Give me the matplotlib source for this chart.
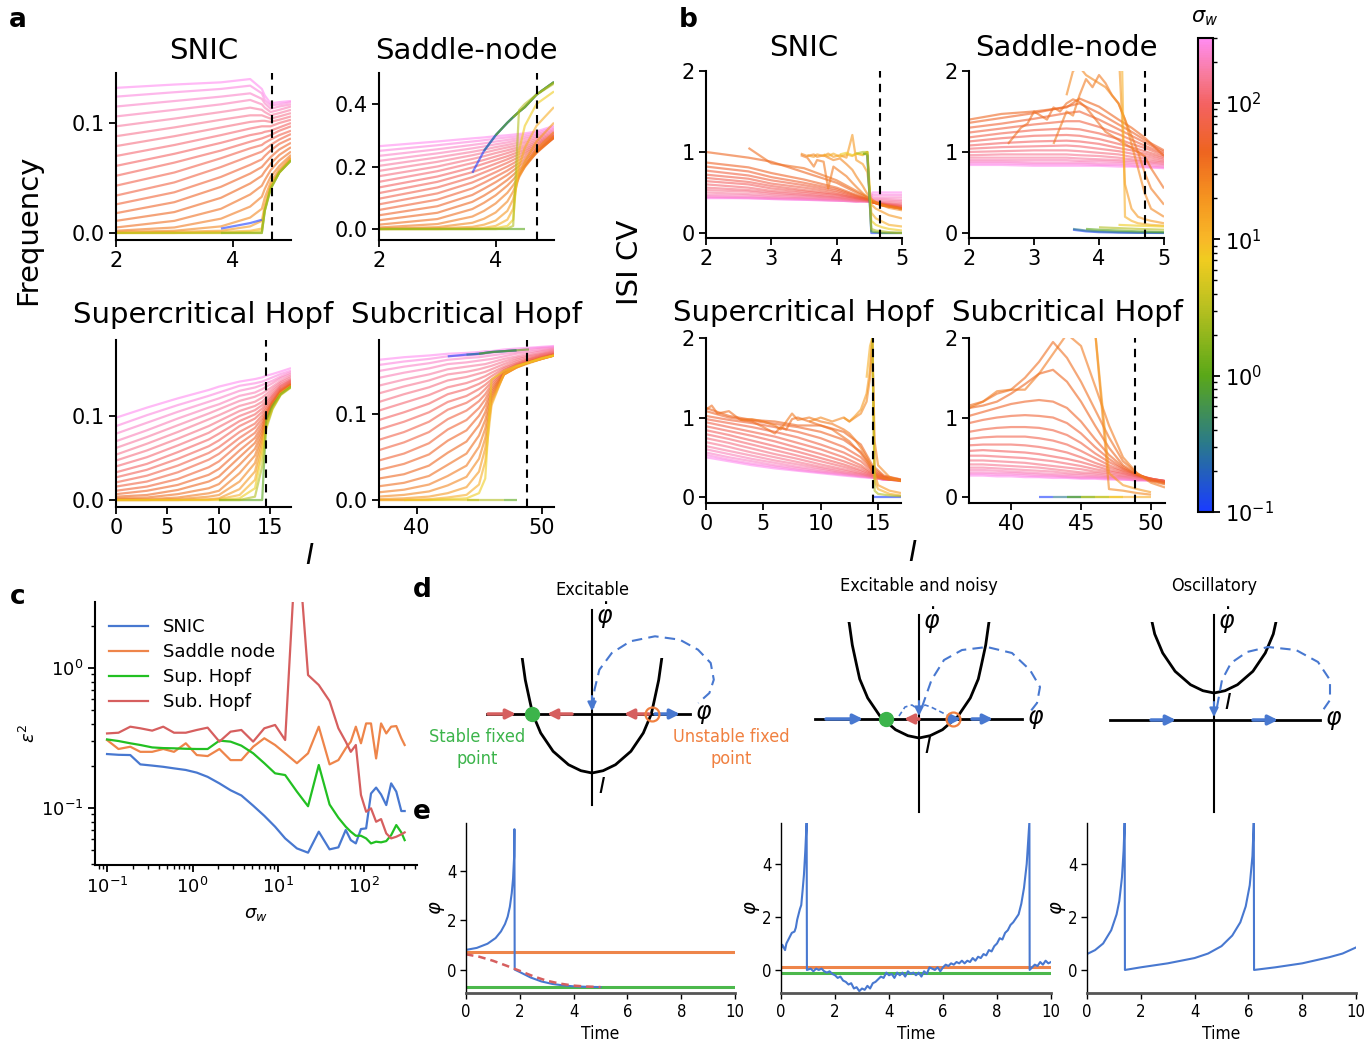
import numpy as np
import matplotlib
matplotlib.use('Agg')
import matplotlib.pyplot as plt
from matplotlib.colors import LinearSegmentedColormap, LogNorm
from matplotlib.patches import Rectangle
import matplotlib.ticker as mticker
import matplotlib.cm as mcm

W, H = 1369, 1041
N = None
NARROW = ['Liberation Sans Narrow', 'DejaVu Sans']

# ---------------- colour scale (sigma_w) ----------------
CMAP_POS = [0, 0.144, 0.288, 0.431, 0.532, 0.575, 0.661, 0.762, 0.863, 0.92, 1.0]
CMAP_COL = ['#1a3cff', '#2a7a8a', '#5aa818', '#b8c020', '#f0cc20', '#f8b828',
            '#f59520', '#ee6420', '#f46262', '#f77a98', '#ff8cf0']
SIG_MIN, SIG_MAX = 0.1, 300

# ---------------- panel a : frequency ----------------
A_SNIC_I = [2.0, 3.0, 3.8, 4.3, 4.5, 4.55, 4.65, 4.8, 5.0]
A_SNIC = [
    (300, [0.132, 0.135, 0.137, 0.140, 0.131, 0.125, 0.118, 0.119, 0.120]),
    (260, [0.124, 0.128, 0.131, 0.134, 0.127, 0.121, 0.116, 0.117, 0.119]),
    (225, [0.115, 0.120, 0.124, 0.127, 0.122, 0.118, 0.113, 0.115, 0.117]),
    (195, [0.106, 0.112, 0.117, 0.121, 0.117, 0.114, 0.110, 0.112, 0.115]),
    (170, [0.097, 0.104, 0.110, 0.114, 0.112, 0.110, 0.107, 0.109, 0.112]),
    (150, [0.088, 0.096, 0.103, 0.107, 0.107, 0.106, 0.104, 0.106, 0.109]),
    (130, [0.079, 0.088, 0.096, 0.101, 0.102, 0.102, 0.101, 0.103, 0.106]),
    (115, [0.070, 0.080, 0.089, 0.095, 0.097, 0.097, 0.097, 0.100, 0.103]),
    (100, [0.061, 0.072, 0.082, 0.089, 0.091, 0.092, 0.093, 0.096, 0.100]),
    (88, [0.052, 0.064, 0.075, 0.083, 0.086, 0.087, 0.089, 0.093, 0.097]),
    (77, [0.043, 0.055, 0.068, 0.077, 0.080, 0.082, 0.085, 0.089, 0.093]),
    (67, [0.034, 0.046, 0.060, 0.070, 0.074, 0.076, 0.080, 0.085, 0.090]),
    (58, [0.026, 0.037, 0.051, 0.062, 0.067, 0.070, 0.075, 0.081, 0.086]),
    (50, [0.018, 0.028, 0.042, 0.054, 0.060, 0.063, 0.069, 0.076, 0.082]),
    (43, [0.011, 0.019, 0.032, 0.045, 0.052, 0.056, 0.063, 0.071, 0.078]),
    (37, [0.005, 0.011, 0.022, 0.035, 0.043, 0.048, 0.057, 0.066, 0.074]),
    (31, [0.002, 0.005, 0.013, 0.024, 0.033, 0.040, 0.051, 0.061, 0.071]),
    (25, [0.001, 0.002, 0.006, 0.014, 0.022, 0.032, 0.046, 0.058, 0.069]),
    (18, [0.000, 0.001, 0.002, 0.006, 0.011, 0.025, 0.043, 0.056, 0.068]),
    (12, [0.000, 0.000, 0.001, 0.002, 0.004, 0.022, 0.042, 0.055, 0.067]),
    (7, [0.000, 0.000, 0.000, 0.001, 0.002, 0.021, 0.041, 0.055, 0.066]),
    (3, [0.000, 0.000, 0.000, 0.000, 0.000, 0.020, 0.040, 0.055, 0.066]),
    (1, [N, N, 0.000, 0.000, 0.000, 0.020, 0.040, 0.055, 0.066]),
    (0.1, [N, N, 0.004, 0.009, 0.012, N, N, N, N]),
]

A_SN_I = [2.0, 3.0, 3.6, 3.8, 4.0, 4.2, 4.3, 4.4, 4.5, 4.7, 5.0]
A_SN = [
    (300, [0.265, 0.280, 0.290, 0.293, 0.297, 0.300, 0.302, 0.304, 0.306, 0.312, 0.330]),
    (260, [0.250, 0.268, 0.280, 0.284, 0.289, 0.293, 0.295, 0.298, 0.300, 0.307, 0.325]),
    (225, [0.234, 0.255, 0.269, 0.274, 0.280, 0.285, 0.288, 0.291, 0.294, 0.302, 0.320]),
    (195, [0.218, 0.242, 0.258, 0.264, 0.271, 0.277, 0.281, 0.284, 0.288, 0.297, 0.316]),
    (170, [0.202, 0.229, 0.247, 0.254, 0.262, 0.269, 0.273, 0.277, 0.281, 0.292, 0.312]),
    (150, [0.186, 0.215, 0.236, 0.244, 0.253, 0.261, 0.265, 0.270, 0.275, 0.287, 0.308]),
    (130, [0.169, 0.200, 0.224, 0.233, 0.243, 0.252, 0.257, 0.262, 0.268, 0.282, 0.305]),
    (115, [0.151, 0.185, 0.211, 0.221, 0.232, 0.243, 0.249, 0.255, 0.261, 0.277, 0.302]),
    (100, [0.133, 0.168, 0.197, 0.209, 0.221, 0.233, 0.240, 0.247, 0.254, 0.272, 0.300]),
    (88, [0.115, 0.151, 0.182, 0.195, 0.209, 0.223, 0.231, 0.239, 0.247, 0.267, 0.298]),
    (77, [0.097, 0.133, 0.166, 0.181, 0.196, 0.212, 0.221, 0.230, 0.240, 0.262, 0.296]),
    (67, [0.079, 0.114, 0.149, 0.165, 0.182, 0.200, 0.210, 0.221, 0.232, 0.257, 0.294]),
    (58, [0.061, 0.094, 0.130, 0.148, 0.167, 0.187, 0.199, 0.211, 0.224, 0.252, 0.293]),
    (50, [0.044, 0.073, 0.109, 0.129, 0.150, 0.173, 0.187, 0.201, 0.216, 0.248, 0.292]),
    (43, [0.028, 0.052, 0.087, 0.107, 0.130, 0.157, 0.173, 0.190, 0.208, 0.245, 0.292]),
    (37, [0.014, 0.032, 0.064, 0.084, 0.108, 0.139, 0.158, 0.180, 0.202, 0.243, 0.293]),
    (31, [0.005, 0.016, 0.040, 0.058, 0.082, 0.116, 0.140, 0.170, 0.198, 0.245, 0.298]),
    (25, [0.001, 0.006, 0.020, 0.033, 0.053, 0.088, 0.120, 0.165, 0.200, 0.255, 0.310]),
    (18, [0.000, 0.002, 0.007, 0.014, 0.027, 0.058, 0.095, 0.170, 0.215, 0.280, 0.340]),
    (12, [0.000, 0.000, 0.002, 0.004, 0.010, 0.030, 0.065, 0.200, 0.260, 0.330, 0.390]),
    (7, [0.000, 0.000, 0.000, 0.001, 0.003, 0.010, 0.030, 0.250, 0.330, 0.400, 0.440]),
    (3, [0.000, 0.000, 0.000, 0.000, 0.000, 0.002, 0.010, 0.380, 0.400, 0.430, 0.465]),
    (1, [0.000, 0.000, 0.000, 0.000, 0.000, 0.000, 0.000, 0.000, 0.000, N, N]),
    (0.1, [N, N, 0.180, 0.250, 0.300, 0.340, 0.358, 0.375, 0.390, 0.430, 0.470]),
    (0.3, [N, N, N, 0.250, 0.300, 0.340, 0.358, 0.375, 0.390, 0.430, 0.470]),
    (1, [N, N, N, N, 0.300, 0.340, 0.358, 0.375, 0.390, 0.430, 0.470]),
    (2, [N, N, N, N, N, N, 0.358, 0.375, 0.390, 0.430, 0.470]),
]

A_SUP_I = [0, 3, 6, 9, 10, 12, 13.5, 14.2, 14.6, 15.2, 16, 17]
A_SUP = [
    (300, [0.098, 0.110, 0.121, 0.131, 0.135, 0.141, 0.144, 0.146, 0.148, 0.150, 0.153, 0.157]),
    (260, [0.088, 0.101, 0.113, 0.124, 0.128, 0.136, 0.139, 0.141, 0.143, 0.146, 0.150, 0.154]),
    (225, [0.079, 0.092, 0.105, 0.117, 0.121, 0.130, 0.134, 0.137, 0.139, 0.142, 0.147, 0.152]),
    (195, [0.070, 0.083, 0.097, 0.110, 0.114, 0.124, 0.128, 0.132, 0.135, 0.139, 0.145, 0.150]),
    (170, [0.062, 0.075, 0.089, 0.103, 0.108, 0.118, 0.123, 0.127, 0.130, 0.135, 0.142, 0.148]),
    (150, [0.054, 0.067, 0.081, 0.096, 0.101, 0.112, 0.117, 0.122, 0.126, 0.132, 0.140, 0.146]),
    (130, [0.047, 0.059, 0.073, 0.088, 0.094, 0.106, 0.112, 0.117, 0.122, 0.129, 0.138, 0.144]),
    (115, [0.040, 0.051, 0.065, 0.080, 0.087, 0.100, 0.107, 0.113, 0.118, 0.126, 0.136, 0.143]),
    (100, [0.033, 0.043, 0.057, 0.072, 0.079, 0.094, 0.102, 0.109, 0.115, 0.124, 0.135, 0.142]),
    (88, [0.027, 0.036, 0.049, 0.064, 0.071, 0.088, 0.097, 0.105, 0.112, 0.122, 0.133, 0.141]),
    (77, [0.021, 0.029, 0.041, 0.056, 0.063, 0.081, 0.091, 0.101, 0.109, 0.120, 0.132, 0.140]),
    (67, [0.016, 0.022, 0.033, 0.048, 0.055, 0.074, 0.086, 0.097, 0.106, 0.118, 0.131, 0.139]),
    (58, [0.011, 0.016, 0.025, 0.039, 0.046, 0.067, 0.080, 0.093, 0.104, 0.117, 0.130, 0.138]),
    (50, [0.007, 0.011, 0.018, 0.030, 0.037, 0.059, 0.074, 0.089, 0.102, 0.116, 0.129, 0.138]),
    (43, [0.004, 0.006, 0.012, 0.022, 0.028, 0.051, 0.068, 0.085, 0.100, 0.115, 0.129, 0.137]),
    (37, [0.002, 0.003, 0.007, 0.014, 0.019, 0.042, 0.061, 0.081, 0.098, 0.114, 0.128, 0.137]),
    (31, [0.001, 0.001, 0.003, 0.008, 0.011, 0.032, 0.053, 0.077, 0.096, 0.113, 0.128, 0.136]),
    (25, [0.000, 0.000, 0.001, 0.004, 0.006, 0.022, 0.044, 0.073, 0.094, 0.112, 0.127, 0.136]),
    (18, [0.000, 0.000, 0.000, 0.001, 0.002, 0.013, 0.034, 0.068, 0.092, 0.111, 0.127, 0.135]),
    (12, [0.000, 0.000, 0.000, 0.000, 0.001, 0.006, 0.024, 0.062, 0.090, 0.110, 0.126, 0.135]),
    (7, [0.000, 0.000, 0.000, 0.000, 0.000, 0.002, 0.014, 0.055, 0.088, 0.109, 0.126, 0.135]),
    (3, [N, N, N, N, 0.000, 0.000, 0.004, 0.040, 0.085, 0.108, 0.125, 0.134]),
    (1, [N, N, N, N, 0.000, 0.000, 0.000, 0.000, 0.095, 0.112, 0.126, 0.135]),
]

A_SUB_I = [37, 39, 41, 42.5, 44, 45, 45.5, 46, 47, 48, 49, 50, 51]
A_SUB = [
    (300, [0.163, 0.166, 0.168, 0.170, 0.171, 0.172, 0.173, 0.173, 0.175, 0.176, 0.177, 0.178, 0.179]),
    (260, [0.157, 0.161, 0.164, 0.167, 0.168, 0.169, 0.170, 0.171, 0.173, 0.174, 0.176, 0.177, 0.178]),
    (225, [0.150, 0.155, 0.159, 0.163, 0.165, 0.166, 0.167, 0.168, 0.170, 0.172, 0.174, 0.176, 0.177]),
    (195, [0.142, 0.148, 0.153, 0.158, 0.160, 0.162, 0.163, 0.164, 0.167, 0.170, 0.172, 0.174, 0.176]),
    (170, [0.133, 0.140, 0.146, 0.152, 0.155, 0.157, 0.158, 0.160, 0.164, 0.167, 0.170, 0.173, 0.175]),
    (150, [0.124, 0.132, 0.139, 0.146, 0.149, 0.152, 0.154, 0.156, 0.161, 0.165, 0.168, 0.171, 0.174]),
    (130, [0.114, 0.123, 0.131, 0.139, 0.143, 0.147, 0.149, 0.152, 0.158, 0.163, 0.167, 0.170, 0.173]),
    (115, [0.104, 0.113, 0.122, 0.131, 0.136, 0.141, 0.144, 0.148, 0.155, 0.161, 0.165, 0.169, 0.172]),
    (100, [0.093, 0.102, 0.112, 0.123, 0.129, 0.135, 0.139, 0.144, 0.153, 0.159, 0.164, 0.168, 0.171]),
    (88, [0.082, 0.091, 0.102, 0.114, 0.121, 0.129, 0.134, 0.140, 0.151, 0.158, 0.163, 0.167, 0.170]),
    (77, [0.070, 0.079, 0.091, 0.105, 0.113, 0.122, 0.129, 0.137, 0.150, 0.157, 0.162, 0.166, 0.170]),
    (67, [0.058, 0.067, 0.079, 0.094, 0.104, 0.115, 0.123, 0.134, 0.149, 0.156, 0.161, 0.166, 0.169]),
    (58, [0.046, 0.054, 0.066, 0.082, 0.093, 0.107, 0.117, 0.131, 0.148, 0.156, 0.161, 0.165, 0.169]),
    (50, [0.035, 0.042, 0.053, 0.069, 0.081, 0.098, 0.110, 0.128, 0.147, 0.155, 0.160, 0.165, 0.168]),
    (43, [0.025, 0.030, 0.040, 0.055, 0.068, 0.087, 0.102, 0.125, 0.147, 0.155, 0.160, 0.165, 0.168]),
    (37, [0.016, 0.020, 0.028, 0.041, 0.054, 0.075, 0.093, 0.122, 0.146, 0.155, 0.160, 0.164, 0.168]),
    (31, [0.009, 0.012, 0.018, 0.028, 0.040, 0.062, 0.083, 0.119, 0.146, 0.154, 0.160, 0.164, 0.168]),
    (25, [0.004, 0.006, 0.010, 0.017, 0.027, 0.048, 0.072, 0.116, 0.146, 0.154, 0.160, 0.164, 0.168]),
    (18, [0.001, 0.002, 0.004, 0.008, 0.015, 0.033, 0.060, 0.113, 0.146, 0.154, 0.159, 0.164, 0.168]),
    (12, [0.000, 0.000, 0.001, 0.003, 0.006, 0.018, 0.045, 0.110, 0.147, 0.155, 0.160, 0.164, 0.168]),
    (7, [N, 0.000, 0.000, 0.001, 0.002, 0.008, 0.025, 0.140, 0.150, 0.156, 0.160, 0.165, 0.168]),
    (16, [0.000, 0.000, 0.000, N, N, N, N, N, N, N, N, N, N]),
    (6, [N, N, 0.000, 0.000, 0.000, 0.000, N, N, N, N, N, N, N]),
    (3, [N, N, N, N, 0.000, 0.000, 0.000, 0.000, 0.000, N, N, N, N]),
    (1, [N, N, N, N, N, N, N, N, 0.000, 0.000, N, N, N]),
    (0.1, [N, N, N, 0.167, 0.169, 0.170, 0.171, 0.172, 0.173, 0.174, N, N, N]),
    (0.3, [N, N, N, N, 0.169, 0.170, 0.171, 0.172, 0.173, 0.174, N, N, N]),
    (1, [N, N, N, N, N, 0.170, 0.171, 0.172, 0.173, 0.174, 0.175, N, N]),
]

# ---------------- panel b : ISI CV ----------------
B_SNIC_I = [2.0, 2.65, 3.0, 3.5, 4.0, 4.3, 4.5, 4.55, 4.7, 5.0]
B_SNIC = [
    (300, [0.43, 0.43, 0.42, 0.41, 0.40, 0.39, 0.40, 0.50, 0.50, 0.50]),
    (260, [0.44, 0.43, 0.42, 0.41, 0.40, 0.39, 0.39, 0.47, 0.47, 0.47]),
    (225, [0.45, 0.44, 0.43, 0.42, 0.40, 0.39, 0.39, 0.44, 0.44, 0.44]),
    (195, [0.47, 0.46, 0.44, 0.43, 0.41, 0.39, 0.39, 0.42, 0.42, 0.41]),
    (170, [0.50, 0.48, 0.46, 0.44, 0.42, 0.40, 0.39, 0.40, 0.40, 0.39]),
    (150, [0.53, 0.51, 0.48, 0.46, 0.43, 0.40, 0.39, 0.39, 0.38, 0.37]),
    (130, [0.56, 0.53, 0.50, 0.47, 0.44, 0.41, 0.39, 0.38, 0.37, 0.35]),
    (115, [0.60, 0.56, 0.52, 0.49, 0.45, 0.42, 0.40, 0.38, 0.36, 0.34]),
    (100, [0.64, 0.60, 0.55, 0.51, 0.47, 0.43, 0.40, 0.38, 0.36, 0.33]),
    (88, [0.68, 0.63, 0.58, 0.53, 0.48, 0.43, 0.40, 0.38, 0.35, 0.32]),
    (77, [0.72, 0.67, 0.61, 0.56, 0.50, 0.44, 0.41, 0.38, 0.35, 0.31]),
    (67, [0.77, 0.71, 0.65, 0.59, 0.52, 0.45, 0.41, 0.38, 0.35, 0.31]),
    (58, [0.82, 0.76, 0.69, 0.62, 0.54, 0.46, 0.41, 0.38, 0.35, 0.30]),
    (50, [0.87, 0.81, 0.74, 0.66, 0.56, 0.47, 0.41, 0.38, 0.34, 0.30]),
    (43, [1.00, 0.93, 0.88, 0.75, 0.62, 0.50, 0.42, 0.38, 0.34, 0.30]),
    (37, [N, 1.05, 0.86, 0.80, 0.65, 0.52, 0.43, 0.38, 0.34, 0.30]),
]
B_SNIC_NI = [3.45, 3.55, 3.65, 3.7, 3.8, 3.87, 3.95, 4.05, 4.15, 4.24, 4.3, 4.4, 4.47, 4.53, 4.6, 4.7, 4.8, 5.0]
B_SNIC_N = [
    (31, [0.96, 0.93, 0.82, 0.90, 0.88, 0.55, 0.82, 0.76, 0.70, 0.62, 0.57, 0.49, 0.44, 0.40, 0.38, 0.35, 0.33, 0.30]),
    (25, [0.98, 0.95, 0.97, 0.94, 0.96, 0.93, 0.90, 0.92, 0.85, 0.78, 0.70, 0.58, 0.48, 0.42, 0.38, 0.34, 0.31, 0.28]),
    (18, [N, 0.96, 0.94, 0.97, 0.95, 0.98, 0.94, 0.96, 0.93, 1.21, 0.90, 0.85, 0.75, 0.35, 0.30, 0.26, 0.22, 0.18]),
    (12, [N, N, N, N, 0.97, 0.95, 0.98, 0.94, 0.97, 0.95, 0.98, 0.96, 1.00, 0.25, 0.18, 0.14, 0.10, 0.08]),
    (7, [N, N, N, N, N, N, N, 0.97, 0.99, 0.96, 0.98, 0.97, 1.00, 0.15, 0.10, 0.07, 0.05, 0.03]),
    (3, [N, N, N, N, N, N, N, N, N, N, 0.98, 1.00, 1.00, 0.05, 0.03, 0.02, 0.01, 0.00]),
    (1, [N, N, N, N, N, N, N, N, N, N, N, 0.98, 0.97, 0.02, 0.01, 0.00, 0.00, 0.00]),
    (0.1, [N, N, N, N, N, N, N, N, N, N, N, N, 0.96, 0.00, 0.00, 0.00, 0.00, 0.00]),
]

B_SN_I = [2.0, 2.5, 3.0, 3.5, 3.7, 4.0, 4.3, 4.5, 4.7, 5.0]
B_SN = [
    (300, [0.84, 0.84, 0.83, 0.83, 0.83, 0.83, 0.82, 0.82, 0.81, 0.80]),
    (260, [0.86, 0.86, 0.85, 0.85, 0.85, 0.84, 0.84, 0.83, 0.82, 0.81]),
    (225, [0.88, 0.88, 0.87, 0.87, 0.87, 0.86, 0.86, 0.85, 0.84, 0.82]),
    (195, [0.90, 0.90, 0.90, 0.90, 0.89, 0.89, 0.88, 0.87, 0.86, 0.84]),
    (170, [0.93, 0.93, 0.93, 0.93, 0.92, 0.91, 0.90, 0.89, 0.88, 0.85]),
    (150, [0.96, 0.97, 0.97, 0.97, 0.96, 0.95, 0.93, 0.91, 0.89, 0.87]),
    (130, [1.00, 1.01, 1.02, 1.02, 1.01, 0.99, 0.97, 0.94, 0.92, 0.88]),
    (115, [1.04, 1.06, 1.07, 1.08, 1.07, 1.04, 1.01, 0.98, 0.95, 0.90]),
    (100, [1.08, 1.11, 1.13, 1.14, 1.13, 1.10, 1.05, 1.02, 0.98, 0.92]),
    (88, [1.13, 1.17, 1.20, 1.21, 1.20, 1.16, 1.10, 1.06, 1.01, 0.94]),
    (77, [1.18, 1.23, 1.27, 1.29, 1.28, 1.23, 1.16, 1.10, 1.05, 0.96]),
    (67, [1.24, 1.29, 1.34, 1.38, 1.38, 1.31, 1.22, 1.15, 1.08, 0.98]),
    (58, [1.30, 1.35, 1.41, 1.48, 1.50, 1.40, 1.28, 1.20, 1.12, 1.00]),
    (50, [1.36, 1.42, 1.48, 1.56, 1.60, 1.48, 1.34, 1.25, 1.15, 1.02]),
    (43, [1.40, 1.47, 1.50, 1.55, 1.66, 1.56, 1.40, 1.30, 1.18, 0.95]),
]
B_SN_NI = [2.6, 2.7, 2.8, 2.9, 3.0, 3.1, 3.2, 3.3, 3.4, 3.5, 3.6, 3.7, 3.8, 3.9, 4.0, 4.1, 4.2,
           4.3, 4.35, 4.4, 4.5, 4.6, 4.7, 4.8, 5.0]
B_SN_N = [
    (37, [1.10, 1.20, 1.30, 1.35, 1.50, 1.45, 1.40, 1.55, 1.50, 1.60, 1.65, 1.62, 1.55, 1.45, 1.35,
          1.25, 1.20, 1.15, 1.12, 1.10, 1.05, 1.00, 0.95, 0.80, 0.55]),
    (31, [N, N, N, N, N, N, N, 1.10, 1.30, 1.50, 1.45, 1.70, 1.90, 1.80, 1.95, 1.85, 1.70, 1.60,
          1.50, 1.40, 1.20, 1.00, 0.75, 0.55, 0.35]),
    (25, [N, N, N, N, N, N, N, N, N, 1.70, 2.00, 2.05, 1.95, 1.90, 1.85, 1.80, 1.70, 1.60, 1.50,
          1.40, 1.10, 0.80, 0.50, 0.30, 0.20]),
    (18, [N] * 17 + [2.30, 1.50, 0.60, 0.30, 0.20, 0.17, 0.15, 0.12]),
    (12, [N] * 17 + [2.30, 2.30, 0.20, 0.15, 0.12, 0.11, 0.10, 0.09]),
]
B_SN_LI = [3.6, 3.8, 4.0, 4.3, 4.6, 5.0]
B_SN_L = [
    (7, [N, N, N, 0.10, 0.09, 0.08]),
    (3, [N, N, 0.07, 0.06, 0.05, 0.04]),
    (1, [N, 0.05, 0.04, 0.03, 0.02, 0.01]),
    (0.3, [0.05, 0.03, 0.02, 0.01, 0.005, 0.003]),
    (0.1, [0.04, 0.02, 0.01, 0.005, 0.002, 0.000]),
]

B_SUP_I = [0, 2, 4, 6, 8, 10, 12, 13.5, 14.5, 15.5, 17]
B_SUP = [
    (300, [0.50, 0.45, 0.40, 0.36, 0.33, 0.30, 0.27, 0.25, 0.24, 0.22, 0.21]),
    (260, [0.53, 0.47, 0.42, 0.38, 0.34, 0.31, 0.28, 0.26, 0.24, 0.22, 0.21]),
    (225, [0.56, 0.50, 0.45, 0.40, 0.36, 0.32, 0.29, 0.26, 0.25, 0.22, 0.21]),
    (195, [0.60, 0.54, 0.48, 0.43, 0.38, 0.34, 0.30, 0.27, 0.25, 0.22, 0.21]),
    (170, [0.64, 0.58, 0.52, 0.46, 0.41, 0.36, 0.31, 0.28, 0.25, 0.22, 0.21]),
    (150, [0.69, 0.63, 0.56, 0.50, 0.44, 0.38, 0.33, 0.29, 0.26, 0.23, 0.21]),
    (130, [0.74, 0.68, 0.61, 0.54, 0.48, 0.41, 0.35, 0.30, 0.26, 0.23, 0.21]),
    (115, [0.79, 0.73, 0.66, 0.59, 0.52, 0.45, 0.38, 0.32, 0.27, 0.23, 0.21]),
    (100, [0.84, 0.78, 0.71, 0.64, 0.57, 0.49, 0.41, 0.34, 0.28, 0.23, 0.21]),
    (88, [0.89, 0.83, 0.77, 0.70, 0.62, 0.54, 0.45, 0.37, 0.29, 0.24, 0.21]),
    (77, [0.94, 0.88, 0.82, 0.76, 0.68, 0.60, 0.50, 0.40, 0.30, 0.24, 0.21]),
    (67, [0.98, 0.93, 0.88, 0.82, 0.75, 0.66, 0.56, 0.45, 0.32, 0.25, 0.21]),
    (58, [1.02, 0.97, 0.93, 0.88, 0.82, 0.74, 0.63, 0.50, 0.34, 0.25, 0.21]),
    (50, [1.08, 1.00, 0.96, 0.92, 0.88, 0.82, 0.72, 0.57, 0.37, 0.26, 0.22]),
    (43, [1.12, 1.02, 0.97, 0.95, 0.90, 0.90, 0.82, 0.66, 0.40, 0.27, 0.22]),
]
B_SUP_NI = [0, 0.5, 1, 2, 3, 4, 5, 6, 6.5, 7, 7.5, 8, 9, 10, 11, 12, 12.5, 13, 13.5, 14, 14.3,
            14.5, 14.7, 15, 16, 17]
B_SUP_N = [
    (37, [1.10, 1.15, 1.05, 1.08, 0.97, 0.95, 0.88, 0.80, 0.88, 0.85, 0.98, 1.00, 0.95, 0.90,
          0.85, 0.75, 0.70, 0.62, 0.55, 0.45, 0.38, 0.32, 0.28, 0.24, 0.22, 0.21]),
    (31, [N, N, N, N, 0.97, 0.98, 0.95, 0.90, 0.85, 0.95, 1.05, 0.97, 1.00, 0.95, 0.92, 0.85,
          0.80, 0.72, 0.62, 0.50, 0.42, 0.36, 0.30, 0.26, 0.22, 0.20]),
    (25, [N] * 12 + [0.95, 1.00, 0.95, 1.00, 0.95, 1.00, 1.05, 1.20, 1.50, 2.00, 0.70, 0.40, 0.25, 0.20]),
    (18, [N] * 15 + [1.00, 0.95, 1.02, 1.10, 1.30, 1.60, 2.00, 0.30, 0.15, 0.08, 0.05]),
    (12, [N] * 19 + [1.50, 1.90, 2.00, 0.20, 0.10, 0.04, 0.02]),
    (3, [N] * 21 + [2.00, 0.08, 0.04, 0.02, 0.01]),
    (0.1, [N] * 21 + [0.00, 0.00, 0.00, 0.00, 0.00]),
]

B_SUB_I = [37, 38, 39, 40, 41, 42, 43, 44, 45, 46, 47, 48, 49, 50, 51]
B_SUB = [
    (300, [0.27, 0.27, 0.26, 0.26, 0.25, 0.25, 0.24, 0.24, 0.23, 0.23, 0.22, 0.22, 0.21, 0.21, 0.20]),
    (260, [0.29, 0.29, 0.28, 0.28, 0.27, 0.26, 0.26, 0.25, 0.24, 0.24, 0.23, 0.22, 0.21, 0.21, 0.20]),
    (225, [0.31, 0.31, 0.30, 0.30, 0.29, 0.28, 0.27, 0.26, 0.25, 0.25, 0.24, 0.23, 0.22, 0.21, 0.20]),
    (195, [0.34, 0.34, 0.33, 0.32, 0.31, 0.30, 0.29, 0.28, 0.27, 0.26, 0.25, 0.24, 0.22, 0.21, 0.20]),
    (170, [0.37, 0.37, 0.36, 0.35, 0.34, 0.33, 0.32, 0.30, 0.29, 0.28, 0.26, 0.25, 0.23, 0.22, 0.20]),
    (150, [0.41, 0.41, 0.40, 0.39, 0.38, 0.37, 0.35, 0.33, 0.31, 0.30, 0.28, 0.26, 0.24, 0.22, 0.20]),
    (130, [0.46, 0.46, 0.45, 0.44, 0.43, 0.41, 0.39, 0.37, 0.35, 0.32, 0.30, 0.27, 0.25, 0.22, 0.20]),
    (115, [0.52, 0.52, 0.51, 0.50, 0.49, 0.47, 0.45, 0.42, 0.39, 0.35, 0.32, 0.29, 0.26, 0.23, 0.20]),
    (100, [0.58, 0.59, 0.58, 0.57, 0.56, 0.54, 0.51, 0.48, 0.44, 0.39, 0.34, 0.30, 0.26, 0.23, 0.20]),
    (88, [0.65, 0.66, 0.66, 0.66, 0.65, 0.63, 0.60, 0.56, 0.50, 0.43, 0.37, 0.32, 0.27, 0.23, 0.20]),
    (77, [0.73, 0.75, 0.76, 0.76, 0.76, 0.74, 0.71, 0.66, 0.58, 0.49, 0.40, 0.33, 0.28, 0.23, 0.20]),
    (67, [0.82, 0.85, 0.87, 0.88, 0.88, 0.87, 0.84, 0.78, 0.68, 0.55, 0.44, 0.35, 0.28, 0.23, 0.19]),
    (58, [0.93, 0.97, 1.00, 1.02, 1.03, 1.02, 1.00, 0.93, 0.80, 0.63, 0.48, 0.36, 0.28, 0.22, 0.19]),
    (50, [1.02, 1.07, 1.12, 1.17, 1.20, 1.22, 1.20, 1.12, 0.95, 0.73, 0.53, 0.38, 0.28, 0.22, 0.18]),
    (43, [1.12, 1.15, 1.20, 1.30, 1.42, 1.55, 1.60, 1.45, 1.20, 0.90, 0.62, 0.40, 0.29, 0.21, 0.17]),
    (37, [1.15, 1.20, 1.30, 1.35, 1.50, 1.70, 1.95, 1.75, 1.45, 1.10, 0.75, 0.45, 0.30, 0.20, 0.16]),
    (31, [1.12, 1.20, 1.33, 1.35, 1.35, 1.55, 1.80, 2.05, 1.90, 1.40, 0.90, 0.50, 0.30, 0.18, 0.12]),
    (25, [N] * 9 + [2.10, 0.10, 0.08, 0.05, 0.03, N]),
    (18, [N] * 9 + [2.10, 0.30, 0.15, 0.10, 0.06, N]),
    (12, [N] * 10 + [0.00, 0.00, 0.00, 0.00, N]),
    (7, [N] * 9 + [0.00, 0.00, 0.00, N, N, N]),
    (3, [N] * 8 + [0.00, 0.00, 0.00, N, N, N, N]),
    (1, [N] * 7 + [0.00, 0.00, 0.00, N, N, N, N, N]),
    (0.3, [N] * 6 + [0.00, 0.00, 0.00, N, N, N, N, N, N]),
    (0.1, [N] * 5 + [0.00, 0.00, N, N, N, N, N, N, N, N]),
]

BIF_I = {'snic': 4.67, 'sn': 4.70, 'sup': 14.55, 'sub': 48.85}

# ---------------- panel c : epsilon^2 vs sigma_w ----------------
C_SIGMA = [0.1, 0.136, 0.187, 0.245, 0.337, 0.454, 0.607, 0.833, 1.12, 1.5, 2.06, 2.78, 3.72,
           5.11, 6.9, 9.22, 12.1, 16.6, 22.4, 29.9, 40, 50.7, 61.8, 70.8, 81.1, 93.1, 107, 122,
           140, 160, 184, 210, 241, 276, 302]
C_SNIC = [0.243, 0.240, 0.239, 0.205, 0.201, 0.197, 0.192, 0.187, 0.179, 0.167, 0.150, 0.134,
          0.123, 0.104, 0.088, 0.0736, 0.0607, 0.0515, 0.0480, 0.0678, 0.0507, 0.0524, 0.0697,
          0.0590, 0.0559, 0.0708, 0.0716, 0.127, 0.140, 0.125, 0.105, 0.150, 0.131, 0.0952, 0.0952]
C_SN = [0.306, 0.264, 0.274, 0.252, 0.252, 0.264, 0.252, 0.290, 0.239, 0.235, 0.264, 0.220,
        0.220, 0.274, 0.315, 0.282, 0.246, 0.209, 0.246, 0.381, 0.205, 0.220, 0.267, 0.298, 0.381,
        0.290, 0.402, 0.402, 0.226, 0.402, 0.341, 0.381, 0.385, 0.315, 0.282]
C_SUP = [0.309, 0.301, 0.290, 0.282, 0.271, 0.268, 0.267, 0.265, 0.264, 0.264, 0.303, 0.298,
         0.279, 0.246, 0.209, 0.177, 0.172, 0.131, 0.103, 0.203, 0.106, 0.0853, 0.0736, 0.0678,
         0.0634, 0.0634, 0.0607, 0.0559, 0.0575, 0.0569, 0.0581, 0.0641, 0.0756, 0.0670, 0.0590]
C_SUB = [0.341, 0.345, 0.381, 0.371, 0.357, 0.381, 0.345, 0.345, 0.361, 0.375, 0.298, 0.351,
         0.361, 0.298, 0.371, 0.392, 0.306, 10.0, 0.891, 0.756, 0.581, 0.371, 0.298, 0.252, 0.282,
         0.124, 0.0941, 0.0995, 0.0798, 0.0834, 0.0659, 0.0607, 0.0624, 0.0649, 0.0670]
C_LABELS = ['SNIC', 'Saddle node', 'Sup. Hopf', 'Sub. Hopf']
C_COLORS = ['#4878d0', '#ee854a', '#22c022', '#d65f5f']

# ---------------- panel d : phase-line schematics (pixel units) ----------------
D_TITLES = ['Excitable', 'Excitable and noisy', 'Oscillatory']
U_X = [-72.0, -69.8, -66.7, -62.4, -59.3, -51.3, -38.9, -23.5, -11.1, 0.0,
       11.1, 23.5, 38.9, 51.3, 59.3, 62.4, 66.7, 69.8, 72.0]
U_H = [125, 115, 93, 73, 59, 40, 21.7, 8.3, 2.3, 0, 2.3, 8.3, 21.7, 40, 59, 73, 93, 115, 125]
D_VERTEX = [-59, -19, 27]
D_ARMTOP = [56, 97, 98]
D_HAXIS = [(-105, 98), (-104, 103), (-104, 106)]
D_VAXIS = [(-91, 104), (-93, 104), (-92, 105)]
D_LOOPS = [
    ([1.2, 2.5, 7.4, 19.8, 38.3, 63.0, 87.8, 106.0, 118.7, 121.8, 117.4, 106.3],
     [6, 24.3, 44.3, 61.0, 72.7, 77.7, 74.3, 64.3, 51.0, 34.3, 21.0, 11.0]),
    ([3, 12.5, 25, 43, 68, 93, 111, 121, 118, 111],
     [12, 39, 59, 69, 72, 66, 49, 32, 16, 7]),
    ([3, 8, 17, 33, 54, 82, 104, 116, 116, 107],
     [13, 40, 57, 68, 73, 70, 58, 40, 20, 7]),
]
D2_WIGGLE = ([-20, -14, -7, 0, 6, 12, 20, 28], [3, 12, 14, 9, 14, 12, 8, 4])
D_ARROWS = [
    [(-104, -76, 'r'), (-20, -45, 'r'), (57, 32, 'r'), (63, 88, 'b')],
    [(-93, -56, 'b'), (0, -15, 'r'), (32, 42, 'b'), (53, 74, 'b')],
    [(-63, -38, 'b'), (39, 64, 'b')],
]
D_STABLE = [(-60, 0), (-33, 0), None]
D_UNSTABLE = [(60, 0), (34, 0), None]
D_ILABEL = [(10, -73), (9, -28), (14, 17)]

# ---------------- panel e : trajectories ----------------
E1_T = [0, 0.4, 0.8, 1.1, 1.3, 1.45, 1.55, 1.63, 1.7, 1.75, 1.79, 1.8, 1.81, 2.0, 2.4, 2.8, 3.2,
        3.6, 4.0, 4.5, 5.0]
E1_PHI = [0.80, 0.88, 1.05, 1.28, 1.55, 1.85, 2.15, 2.55, 3.1, 3.7, 4.6, 5.7, 0.0, -0.10,
          -0.32, -0.48, -0.58, -0.64, -0.68, -0.70, -0.71]
E1_DASH_T = [0, 0.5, 1.0, 1.5, 2.0, 2.5, 3.0, 3.5, 4.0, 4.5, 5.0]
E1_DASH = [0.62, 0.52, 0.36, 0.16, -0.05, -0.27, -0.45, -0.57, -0.65, -0.69, -0.71]
E_UNSTABLE = [0.72, 0.10, None]
E_STABLE = [-0.72, -0.10, None]
E2_T = [0, 0.05, 0.1, 0.15, 0.2, 0.3, 0.4, 0.5, 0.55, 0.6, 0.65, 0.7, 0.75, 0.8, 0.85, 0.9,
        0.95, 0.96, 1.1, 1.2, 1.3, 1.4, 1.5, 1.6, 1.7, 1.8, 1.9, 2.0, 2.1, 2.2, 2.3, 2.4, 2.5,
        2.6, 2.7, 2.8, 2.9, 3.0, 3.1, 3.2, 3.3, 3.4, 3.5, 3.6, 3.7, 3.8, 3.9, 4.0, 4.1, 4.2,
        4.3, 4.4, 4.5, 4.6, 4.7, 4.8, 4.9, 5.0, 5.1, 5.2, 5.3, 5.4, 5.5, 5.6, 5.7, 5.8, 5.9,
        6.0, 6.1, 6.2, 6.3, 6.4, 6.5, 6.6, 6.7, 6.8, 6.9, 7.0, 7.1, 7.2, 7.3, 7.4, 7.5, 7.6,
        7.7, 7.8, 7.9, 8.0, 8.1, 8.2, 8.3, 8.4, 8.5, 8.6, 8.7, 8.8, 8.9, 9.0, 9.1, 9.2, 9.21,
        9.3, 9.4, 9.5, 9.6, 9.7, 9.8, 9.9, 10.0]
E2_PHI = [0.8, 0.95, 0.85, 0.75, 1.0, 1.2, 1.4, 1.45, 1.6, 1.9, 2.1, 2.3, 2.45, 3.0, 3.6, 4.5,
          5.6, 0.0, 0.05, -0.05, 0.05, 0.0, 0.05, -0.05, -0.1, -0.05, -0.15, -0.2, -0.3, -0.25,
          -0.4, -0.45, -0.55, -0.5, -0.7, -0.65, -0.8, -0.7, -0.75, -0.6, -0.7, -0.5, -0.45,
          -0.35, -0.25, -0.3, -0.1, -0.2, -0.15, -0.3, -0.1, -0.2, -0.1, -0.25, -0.05, -0.15,
          -0.1, -0.2, -0.1, -0.25, -0.05, -0.15, 0.1, 0.05, 0.0, 0.1, -0.05, 0.1, 0.2, 0.15,
          0.25, 0.2, 0.3, 0.25, 0.35, 0.25, 0.35, 0.3, 0.45, 0.35, 0.5, 0.45, 0.6, 0.55, 0.75,
          0.7, 0.9, 1.0, 1.2, 1.15, 1.4, 1.5, 1.7, 1.8, 1.95, 2.1, 2.5, 3.1, 4.0, 5.6, 0.0, 0.1,
          0.2, 0.15, 0.3, 0.2, 0.35, 0.25, 0.3]
E3_T = [0, 0.3, 0.6, 0.9, 1.1, 1.2, 1.3, 1.36, 1.4, 1.41, 2.0, 3.0, 4.0, 4.5, 5.0, 5.4, 5.7,
        5.9, 6.05, 6.15, 6.2, 6.21, 7.0, 8.0, 9.0, 9.5, 10.0]
E3_PHI = [0.6, 0.75, 1.0, 1.5, 2.1, 2.6, 3.5, 4.5, 5.6, 0.0, 0.1, 0.25, 0.45, 0.62, 0.9, 1.3,
          1.8, 2.4, 3.2, 4.3, 5.6, 0.0, 0.1, 0.25, 0.48, 0.62, 0.85]
E_YLIM = [(-0.95, 5.95), (-0.87, 5.55), (-0.87, 5.55)]

# =====================================================================
cmap = LinearSegmentedColormap.from_list('sigw', list(zip(CMAP_POS, CMAP_COL)))
norm = LogNorm(SIG_MIN, SIG_MAX)

fig = plt.figure(figsize=(W / 100, H / 100), dpi=100)


def px_axes(l, t, r, b):
    return fig.add_axes([l / W, 1 - b / H, (r - l) / W, (b - t) / H])


def ftext(x, y, s, **kw):
    fig.text(x / W, 1 - y / H, s, **kw)


def draw_family(ax, sets):
    items = []
    for grid, rows in sets:
        for s, vals in rows:
            items.append((s, grid, vals))
    hi = sorted([it for it in items if it[0] >= 5], key=lambda r: -r[0])
    lo = sorted([it for it in items if it[0] < 5], key=lambda r: r[0])
    for s, grid, vals in hi + lo:
        y = np.array([np.nan if v is None else v for v in vals], float)
        ax.plot(grid, y, color=cmap(norm(s)), lw=1.6, alpha=0.6, solid_capstyle='butt')


def style_ab(ax, xlim, ylim, xticks, yticks, fmt, bif):
    ax.set_xlim(xlim)
    ax.set_ylim(ylim)
    ax.axvline(bif, color='k', ls=(0, (4, 3)), lw=1.5)
    for sp in ['top', 'right']:
        ax.spines[sp].set_visible(False)
    for sp in ['left', 'bottom']:
        ax.spines[sp].set_linewidth(1.5)
    ax.set_xticks(xticks)
    ax.set_yticks(yticks)
    ax.yaxis.set_major_formatter(mticker.FormatStrFormatter(fmt))
    ax.tick_params(labelsize=15, width=1.3, length=5, pad=3)


TFS = 21
# ---- panel a
ax = px_axes(116, 73, 291, 240)
draw_family(ax, [(A_SNIC_I, A_SNIC)])
style_ab(ax, (2, 5), (-0.0064, 0.1455), [2, 4], [0.0, 0.1], '%.1f', BIF_I['snic'])
ax.set_title('SNIC', fontsize=TFS, pad=10)

ax = px_axes(379, 73, 554, 240)
draw_family(ax, [(A_SN_I, A_SN)])
style_ab(ax, (2, 5), (-0.035, 0.499), [2, 4], [0.0, 0.2, 0.4], '%.1f', BIF_I['sn'])
ax.set_title('Saddle-node', fontsize=TFS, pad=10)

ax = px_axes(116, 340, 291, 507)
draw_family(ax, [(A_SUP_I, A_SUP)])
style_ab(ax, (0, 17), (-0.0083, 0.1905), [0, 5, 10, 15], [0.0, 0.1], '%.1f', BIF_I['sup'])
ax.set_title('Supercritical Hopf', fontsize=TFS, pad=12)

ax = px_axes(379, 340, 554, 507)
draw_family(ax, [(A_SUB_I, A_SUB)])
style_ab(ax, (37, 51), (-0.0081, 0.186), [40, 50], [0.0, 0.1], '%.1f', BIF_I['sub'])
ax.set_title('Subcritical Hopf', fontsize=TFS, pad=12)

ftext(28, 230, 'Frequency', fontsize=21, rotation=90, ha='center', va='center')
ftext(310, 556, r'$I$', fontsize=20, ha='center', va='center')

# ---- panel b
ax = px_axes(706, 71, 902, 238)
draw_family(ax, [(B_SNIC_I, B_SNIC), (B_SNIC_NI, B_SNIC_N)])
style_ab(ax, (2, 5), (-0.062, 2.0), [2, 3, 4, 5], [0, 1, 2], '%d', BIF_I['snic'])
ax.set_title('SNIC', fontsize=TFS, pad=11)

ax = px_axes(969, 71, 1164, 238)
draw_family(ax, [(B_SN_I, B_SN), (B_SN_NI, B_SN_N), (B_SN_LI, B_SN_L)])
style_ab(ax, (2, 5), (-0.062, 2.0), [2, 3, 4, 5], [0, 1, 2], '%d', BIF_I['sn'])
ax.set_title('Saddle-node', fontsize=TFS, pad=11)

ax = px_axes(706, 338, 901, 503)
draw_family(ax, [(B_SUP_I, B_SUP), (B_SUP_NI, B_SUP_N)])
style_ab(ax, (0, 17), (-0.075, 2.0), [0, 5, 10, 15], [0, 1, 2], '%d', BIF_I['sup'])
ax.set_title('Supercritical Hopf', fontsize=TFS, pad=12)

ax = px_axes(969, 338, 1165, 503)
draw_family(ax, [(B_SUB_I, B_SUB)])
style_ab(ax, (37, 51), (-0.075, 2.0), [40, 45, 50], [0, 1, 2], '%d', BIF_I['sub'])
ax.set_title('Subcritical Hopf', fontsize=TFS, pad=12)

ftext(630, 262, 'ISI CV', fontsize=21, rotation=90, ha='center', va='center')
ftext(913, 553, r'$I$', fontsize=20, ha='center', va='center')

# ---- colorbar
cax = px_axes(1198, 38, 1213, 512)
sm = mcm.ScalarMappable(norm=norm, cmap=cmap)
cb = fig.colorbar(sm, cax=cax)
cb.outline.set_linewidth(1.5)
cax.tick_params(which='major', labelsize=15, width=1.3, length=5)
cax.tick_params(which='minor', width=1.0, length=3)
ftext(1205, 18, r'$\sigma_w$', fontsize=15, ha='center', va='center')

# ---- panel c
axc = px_axes(95, 602, 417, 865)
for ys, lab, col in zip([C_SNIC, C_SN, C_SUP, C_SUB], C_LABELS, C_COLORS):
    axc.plot(C_SIGMA, ys, color=col, lw=1.6, label=lab)
axc.set_xscale('log')
axc.set_yscale('log')
axc.set_xlim(0.0723, 421)
axc.set_ylim(0.0392, 2.96)
for sp in ['top', 'right']:
    axc.spines[sp].set_visible(False)
for sp in ['left', 'bottom']:
    axc.spines[sp].set_linewidth(1.5)
axc.tick_params(which='major', labelsize=13, width=1.3, length=5)
axc.tick_params(which='minor', width=1.0, length=3)
axc.set_xlabel(r'$\sigma_w$', fontsize=13, labelpad=6)
axc.set_ylabel(r'$\epsilon^2$', fontsize=13, labelpad=1)
axc.legend(loc='upper left', bbox_to_anchor=(0.02, 0.965), frameon=False, fontsize=13,
           handlelength=2.2, labelspacing=0.38, borderaxespad=0)

# ---- panel d
def diagram_axes(l, t, r, b, ox, oy):
    a = px_axes(l, t, r, b)
    a.set_xlim(l - ox, r - ox)
    a.set_ylim(oy - b, oy - t)
    a.axis('off')
    return a


D_BOX = [(425, 572, 765, 815, 592, 714), (770, 572, 1075, 815, 919, 719),
         (1085, 572, 1365, 815, 1214, 720)]
BLUE, RED, GRN, ORG = '#4878d0', '#d65f5f', '#3cb44b', '#f08040'
for k in range(3):
    l, t, r, b, ox, oy = D_BOX[k]
    a = diagram_axes(l, t, r, b, ox, oy)
    hx = D_HAXIS[k]
    vy = D_VAXIS[k]
    a.plot(hx, [0, 0], color='k', lw=2, zorder=2)
    a.plot([0, 0], vy, color='k', lw=1.5, zorder=2)
    ln, = a.plot(U_X, np.array(U_H) + D_VERTEX[k], color='k', lw=2, zorder=3)
    ln.set_clip_path(Rectangle((-200, -300), 400, 300 + D_ARMTOP[k], transform=a.transData))
    lx, ly = D_LOOPS[k]
    a.plot(lx, ly, color=BLUE, lw=1.5, ls=(0, (5, 3)), zorder=3)
    if k == 1:
        a.plot(D2_WIGGLE[0], D2_WIGGLE[1], color=BLUE, lw=1.2, ls=(0, (3, 2)), zorder=3)
    for tail, head, c in D_ARROWS[k]:
        col = RED if c == 'r' else BLUE
        a.annotate('', xy=(head, 0), xytext=(tail, 0),
                   arrowprops=dict(arrowstyle='-|>', color=col, lw=2.5, mutation_scale=14,
                                   shrinkA=0, shrinkB=0), zorder=4)
    a.annotate('', xy=(0, 3), xytext=(0, 18),
               arrowprops=dict(arrowstyle='-|>', color=BLUE, lw=1.5, mutation_scale=13,
                               shrinkA=0, shrinkB=0), zorder=4)
    if D_STABLE[k] is not None:
        a.plot(*D_STABLE[k], 'o', ms=10, color=GRN, zorder=5)
        a.plot(*D_UNSTABLE[k], 'o', ms=10, mfc='none', mec=ORG, mew=1.6, zorder=5)
    a.text(hx[1] + 14, 0, r'$\varphi$', fontsize=17, ha='center', va='center')
    a.text(13, vy[1] - 6, r'$\dot{\varphi}$', fontsize=17, ha='center', va='center')
    a.text(*D_ILABEL[k], r'$I$', fontsize=16, ha='center', va='center')
    a.text(0, [124, 133, 134][k], D_TITLES[k], fontsize=13, family=NARROW,
           fontstretch='condensed', ha='center', va='center')
    if k == 0:
        a.text(-115, -34, 'Stable fixed\npoint', color=GRN, fontsize=13, family=NARROW,
               fontstretch='condensed', ha='center', va='center', linespacing=1.3)
        a.text(139, -34, 'Unstable fixed\npoint', color=ORG, fontsize=13, family=NARROW,
               fontstretch='condensed', ha='center', va='center', linespacing=1.3)

# ---- panel e
E_BOX = [(466, 823, 735, 993), (781, 823, 1051, 993), (1087, 823, 1356, 993)]
E_TRAJ = [(E1_T, E1_PHI), (E2_T, E2_PHI), (E3_T, E3_PHI)]
for k in range(3):
    ae = px_axes(*E_BOX[k])
    t_, p_ = E_TRAJ[k]
    if E_UNSTABLE[k] is not None:
        ae.axhline(E_UNSTABLE[k], color='#ee854a', lw=2.2)
        ae.axhline(E_STABLE[k], color='#4cb84c', lw=2.2)
    ae.plot(t_, p_, color=BLUE, lw=1.5)
    if k == 0:
        ae.plot(E1_DASH_T, E1_DASH, color=RED, lw=1.8, ls=(0, (3, 2)))
    ae.set_xlim(0, 10)
    ae.set_ylim(E_YLIM[k])
    ae.set_xticks([0, 2, 4, 6, 8, 10])
    ae.set_yticks([0, 2, 4])
    for sp in ['top', 'right']:
        ae.spines[sp].set_visible(False)
    ae.spines['left'].set_linewidth(1.0)
    ae.spines['bottom'].set_linewidth(2.0)
    ae.spines['bottom'].set_color('#555555')
    ae.tick_params(labelsize=12, width=1, length=4, pad=3)
    for lab in ae.get_xticklabels() + ae.get_yticklabels():
        lab.set_family(NARROW)
        lab.set_fontstretch('condensed')
    ae.set_xlabel('Time', fontsize=12.5, family=NARROW, fontstretch='condensed', labelpad=3)
    ae.set_ylabel(r'$\varphi$', fontsize=14, labelpad=0)

# ---- panel letters
for lx, ly, s in [(18, 20, 'a'), (688, 20, 'b'), (18, 597, 'c'), (422, 590, 'd'), (422, 812, 'e')]:
    ftext(lx, ly, s, fontsize=19, fontweight='bold', ha='center', va='center')

fig.savefig('out.png', dpi=100)
